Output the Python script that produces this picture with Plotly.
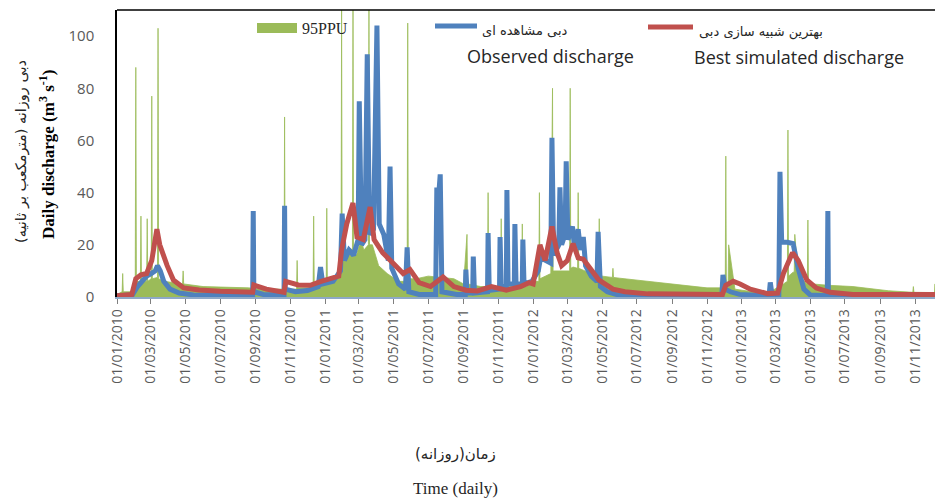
import plotly.graph_objects as go

# ---------------- data ----------------
ppu_dates = ["2010-01-01","2010-01-10","2010-01-11","2010-01-12","2010-01-25","2010-02-02","2010-02-03","2010-02-04",
             "2010-02-11","2010-02-12","2010-02-13","2010-02-22","2010-02-23","2010-02-24","2010-03-02","2010-03-03",
             "2010-03-04","2010-03-13","2010-03-14","2010-03-15","2010-03-25","2010-04-26","2010-04-27","2010-04-28",
             "2010-06-01","2010-08-20","2010-09-10","2010-10-21","2010-10-22","2010-10-23","2010-11-12","2010-11-13",
             "2010-11-14","2010-12-11","2010-12-12","2010-12-13","2011-01-03","2011-01-04","2011-01-05","2011-01-20",
             "2011-01-29","2011-01-30","2011-01-31","2011-02-05","2011-02-12","2011-02-18","2011-02-19","2011-02-20",
             "2011-02-25","2011-03-05","2011-03-10","2011-03-18","2011-03-19","2011-03-20","2011-03-25","2011-04-05",
             "2011-04-20","2011-05-10","2011-05-25","2011-05-26","2011-05-27","2011-06-10","2011-07-01","2011-08-15",
             "2011-09-01","2011-09-07","2011-09-08","2011-10-01","2011-10-13","2011-10-14","2011-10-15","2011-11-01",
             "2011-11-05","2011-11-06","2011-11-07","2011-12-12","2011-12-13","2011-12-14","2011-12-20","2012-01-05",
             "2012-01-11","2012-01-12","2012-01-13","2012-02-01","2012-02-04","2012-02-05","2012-02-10","2012-03-01",
             "2012-03-05","2012-03-06","2012-03-07","2012-03-11","2012-03-19","2012-03-20","2012-03-21","2012-04-01",
             "2012-04-15","2012-04-25","2012-04-26","2012-04-27","2012-05-01","2012-05-19","2012-05-20","2012-05-21",
             "2012-06-01","2012-07-20","2012-09-10","2012-11-01","2012-12-03","2012-12-04","2012-12-05","2012-12-08",
             "2012-12-09","2012-12-20","2013-01-20","2013-02-20","2013-03-15","2013-03-22","2013-03-23","2013-03-24",
             "2013-04-01","2013-04-03","2013-04-04","2013-04-10","2013-04-26","2013-04-27","2013-04-28","2013-05-05",
             "2013-06-01","2013-07-15","2013-09-15","2013-10-28","2013-10-29","2013-10-30","2013-12-05","2013-12-06",
             "2013-12-07","2013-12-20"]
ppu_values = [1, 2, 9, 2, 2, 5, 88, 6,
              6, 31, 6, 6, 30, 6, 7, 77,
              7, 7.5, 103, 7, 6, 5, 10, 5,
              4, 3.5, 3, 3, 69, 3, 3, 14,
              3.5, 3.5, 31, 4, 5, 34, 5, 6,
              10, 110, 14, 15, 19, 18, 110, 18,
              16, 22, 18, 20, 110, 20, 20, 12,
              9, 6, 6, 105, 7, 7, 8, 7,
              5, 24, 5, 4, 4, 40, 4, 3.5,
              3.5, 30, 4, 4, 28, 4, 4, 6,
              6, 40, 7, 9, 80, 10, 10, 10,
              10, 80, 11, 11.5, 11, 40, 11, 10,
              9, 8, 30, 8, 8, 7.5, 11, 7.5,
              7.2, 6, 4.5, 3.5, 3.5, 54, 3.5, 3.5,
              20, 3, 2, 2, 5, 6, 64, 8,
              9.5, 9.5, 24, 8, 5, 29.5, 5, 5,
              4.5, 4, 2.4, 1.8, 4, 1.8, 1.7, 5,
              1.7, 1.7]

obs_dates = ["2010-01-01","2010-01-28","2010-02-06","2010-02-14","2010-02-22","2010-03-02","2010-03-09","2010-03-13",
             "2010-03-18","2010-03-24","2010-04-04","2010-04-20","2010-05-15","2010-08-27","2010-08-28","2010-08-29",
             "2010-09-15","2010-10-21","2010-10-22","2010-10-23","2010-11-10","2010-12-01","2010-12-20","2010-12-24",
             "2010-12-28","2011-01-15","2011-01-28","2011-01-31","2011-02-04","2011-02-12","2011-02-20","2011-02-28",
             "2011-03-02","2011-03-06","2011-03-12","2011-03-16","2011-03-20","2011-03-27","2011-04-02","2011-04-06",
             "2011-04-14","2011-04-22","2011-04-25","2011-04-28","2011-05-10","2011-05-22","2011-05-25","2011-05-28",
             "2011-06-15","2011-07-14","2011-07-16","2011-07-20","2011-07-22","2011-07-25","2011-08-20","2011-09-04",
             "2011-09-05","2011-09-07","2011-09-17","2011-09-18","2011-09-20","2011-10-13","2011-10-14","2011-10-16",
             "2011-11-03","2011-11-04","2011-11-06","2011-11-15","2011-11-16","2011-11-18","2011-11-29","2011-11-30",
             "2011-12-02","2011-12-13","2011-12-14","2011-12-16","2011-12-30","2012-01-10","2012-01-14","2012-02-01",
             "2012-02-03","2012-02-06","2012-02-15","2012-02-17","2012-02-20","2012-02-26","2012-02-28","2012-03-02",
             "2012-03-10","2012-03-14","2012-03-20","2012-03-24","2012-03-29","2012-04-02","2012-04-12","2012-04-22",
             "2012-04-24","2012-04-28","2012-05-10","2012-05-25","2012-06-20","2012-11-27","2012-11-29","2012-12-03",
             "2012-12-12","2012-12-28","2013-01-25","2013-02-18","2013-02-20","2013-02-23","2013-03-07","2013-03-09",
             "2013-03-12","2013-03-22","2013-04-01","2013-04-10","2013-04-20","2013-05-01","2013-05-31","2013-06-01",
             "2013-06-02","2013-12-20"]
obs_values = [0.5, 0.8, 4, 6, 8, 9, 10, 12,
              10, 6, 3, 1.5, 0.8, 0.6, 33, 2,
              1, 0.8, 35, 3, 2, 2.5, 4, 11.5,
              5, 6, 10, 32, 14, 18, 16, 22,
              75, 20, 22, 93, 24, 26, 104, 28,
              24, 14, 50, 11, 5, 3, 19, 2,
              1, 1, 41, 41, 47, 2, 1, 1,
              10.5, 1.5, 1.5, 15.5, 1.5, 2, 24.5, 2.5,
              3, 23, 4, 4, 41, 5, 5, 28,
              5, 5, 22, 5, 6, 10, 15, 13,
              61, 16, 20, 42, 20, 24, 52, 22,
              27, 18, 26, 18, 23, 12, 8, 6,
              25, 4, 2, 1, 0.5, 0.5, 8.5, 3,
              2, 1, 0.7, 0.8, 5.6, 1, 1, 48,
              21, 21, 20.5, 11, 3, 0.8, 0.5, 33,
              0.5, 0.3]

sim_dates = ["2010-01-01","2010-01-27","2010-02-03","2010-02-12","2010-02-22","2010-03-03","2010-03-12","2010-03-17",
             "2010-03-30","2010-04-10","2010-04-28","2010-05-25","2010-07-01","2010-08-27","2010-08-29","2010-09-20",
             "2010-10-21","2010-10-24","2010-11-15","2010-12-06","2010-12-25","2011-01-10","2011-01-25","2011-01-30",
             "2011-02-08","2011-02-19","2011-02-26","2011-03-09","2011-03-21","2011-03-28","2011-04-12","2011-04-30",
             "2011-05-18","2011-05-30","2011-06-15","2011-07-05","2011-07-27","2011-08-15","2011-09-05","2011-09-25",
             "2011-10-20","2011-11-15","2011-12-10","2011-12-25","2012-01-01","2012-01-13","2012-01-22","2012-02-03",
             "2012-02-12","2012-02-20","2012-03-01","2012-03-11","2012-03-20","2012-03-29","2012-04-10","2012-04-25",
             "2012-05-20","2012-06-10","2012-07-20","2012-11-28","2012-12-04","2012-12-17","2012-12-29","2013-01-16",
             "2013-02-15","2013-03-05","2013-03-15","2013-03-31","2013-04-10","2013-04-25","2013-05-12","2013-06-05",
             "2013-07-15","2013-12-20"]
sim_values = [0.5, 1, 7, 8.5, 9, 14, 26, 20,
              12, 6.5, 3.5, 2.7, 2.2, 1.8, 4.6, 3,
              1.8, 6, 4.6, 4.5, 6, 7, 8, 18,
              28, 36, 23, 22, 34.5, 22, 17, 13,
              9, 10.5, 5.5, 4, 7.7, 4, 2.6, 2.3,
              4, 2.6, 4, 5.5, 5, 20, 14, 27,
              17, 12, 14, 20.5, 15, 14.5, 11, 6.6,
              3, 2, 1.2, 1, 4.5, 6, 5, 3,
              1.3, 1.5, 9, 17, 14, 6.5, 3.4, 1.8,
              1, 1]

tick_dates = ["2010-01-01","2010-03-01","2010-05-01","2010-07-01","2010-09-01","2010-11-01",
              "2011-01-01","2011-03-01","2011-05-01","2011-07-01","2011-09-01","2011-11-01",
              "2012-01-01","2012-03-01","2012-05-01","2012-07-01","2012-09-01","2012-11-01",
              "2013-01-01","2013-03-01","2013-05-01","2013-07-01","2013-09-01","2013-11-01"]
tick_labels = ["01/01/2010","01/03/2010","01/05/2010","01/07/2010","01/09/2010","01/11/2010",
               "01/01/2011","01/03/2011","01/05/2011","01/07/2011","01/09/2011","01/11/2011",
               "01/01/2012","01/03/2012","01/05/2012","01/07/2012","01/09/2012","01/11/2012",
               "01/01/2013","01/03/2013","01/05/2013","01/07/2013","01/09/2013","01/11/2013"]
y_ticks = [0, 20, 40, 60, 80, 100]

# ---------------- styling ----------------
GREEN = "#9BBB59"
BLUE = "#4F81BD"
RED = "#C0504D"
GRAY = "#595959"

# the page body has an 8px margin, so the figure is drawn 8px smaller
OFF = 8
W, H = 943 - OFF, 502 - OFF
# plot area in page pixels: x 117..943, y 10..297
PX0, PX1, PY0, PY1 = 117, 943, 10, 297
L, R, T, B = PX0 - OFF, 0, PY0 - OFF, 502 - PY1
PW, PH = PX1 - PX0, PY1 - PY0


def px(x):
    return (x - PX0) / PW


def py(y):
    return (PY1 - y) / PH


fig = go.Figure()
fig.add_trace(go.Scatter(x=ppu_dates, y=ppu_values, mode="lines", fill="tozeroy",
                         fillcolor=GREEN, line=dict(color="rgba(155,187,89,0.8)", width=1),
                         name="95PPU", showlegend=False))
fig.add_trace(go.Scatter(x=obs_dates, y=obs_values, mode="lines",
                         line=dict(color=BLUE, width=5), name="Observed discharge", showlegend=False))
fig.add_trace(go.Scatter(x=sim_dates, y=sim_values, mode="lines",
                         line=dict(color=RED, width=5), name="Best simulated discharge", showlegend=False))

fig.update_layout(
    width=W, height=H, autosize=False,
    margin=dict(l=L, r=R, t=T, b=B, pad=0),
    paper_bgcolor="white", plot_bgcolor="white",
    xaxis=dict(type="date", range=["2010-01-01", "2013-12-20"],
               tickvals=tick_dates, ticktext=tick_labels, tickangle=-90,
               ticks="outside", ticklen=5, tickcolor="#7F7F7F", tickwidth=1,
               showline=True, linecolor="#8EA9C8", linewidth=1.5,
               showgrid=False, zeroline=False, automargin=False,
               tickfont=dict(family="Open Sans", size=14, color=GRAY)),
    yaxis=dict(range=[0, 110], tickvals=y_ticks, ticks="",
               showline=True, linecolor="black", linewidth=1.5,
               showgrid=False, zeroline=False, ticklabelstandoff=18, automargin=False,
               tickfont=dict(family="Open Sans", size=15, color=GRAY)),
)

shapes = [
    dict(type="line", xref="paper", yref="paper", x0=0, x1=1, y0=1, y1=1,
         line=dict(color="black", width=1.5)),
    dict(type="rect", xref="paper", yref="paper", x0=px(257), x1=px(297), y0=py(33), y1=py(23),
         fillcolor=GREEN, line=dict(width=0)),
    dict(type="line", xref="paper", yref="paper", x0=px(435), x1=px(477), y0=py(26), y1=py(26),
         line=dict(color=BLUE, width=5)),
    dict(type="line", xref="paper", yref="paper", x0=px(648), x1=px(693), y0=py(27), y1=py(27),
         line=dict(color=RED, width=5)),
]
fig.update_layout(shapes=shapes)

annotations = [
    dict(text="95PPU", x=px(300), y=py(28), xanchor="left", yanchor="middle",
         font=dict(family="Liberation Serif", size=16, color="#262626")),
    dict(text="دبی مشاهده ای", x=px(480), y=py(31), xanchor="left", yanchor="middle",
         font=dict(family="DejaVu Sans", size=13, color="#262626")),
    dict(text="Observed discharge", x=px(465), y=py(56), xanchor="left", yanchor="middle",
         font=dict(family="Open Sans", size=18, color="#262626")),
    dict(text="بهترین شبیه سازی دبی", x=px(697), y=py(32), xanchor="left", yanchor="middle",
         font=dict(family="DejaVu Sans", size=13, color="#262626")),
    dict(text="Best simulated discharge", x=px(692), y=py(57), xanchor="left", yanchor="middle",
         font=dict(family="Open Sans", size=18, color="#262626")),
    # y-axis titles
    dict(text="دبی روزانه (مترمکعب بر ثانیه)", x=px(21), y=py(152), textangle=-90,
         xanchor="center", yanchor="middle",
         font=dict(family="DejaVu Sans", size=14.5, color="#262626")),
    dict(text="<b>Daily discharge (m<sup>3</sup> s<sup>-1</sup>)</b>", x=px(47), y=py(155), textangle=-90,
         xanchor="center", yanchor="middle",
         font=dict(family="Liberation Serif", size=17, color="black")),
    # x-axis titles
    dict(text="زمان(روزانه)", x=px(455), y=py(454), xanchor="center", yanchor="middle",
         font=dict(family="DejaVu Sans", size=15, color="#262626")),
    dict(text="Time (daily)", x=px(455), y=py(488), xanchor="center", yanchor="middle",
         font=dict(family="Liberation Serif", size=17, color="#262626")),
]
for a in annotations:
    a.update(xref="paper", yref="paper", showarrow=False)
fig.update_layout(annotations=annotations)

fig.write_html("out.html")
